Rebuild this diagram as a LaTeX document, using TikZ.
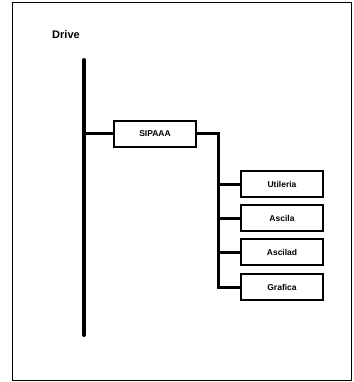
\documentclass[tikz,border=0pt]{standalone}
\usepackage{fontspec}
\setmainfont{Liberation Sans}
\begin{document}
\begin{tikzpicture}[x=1pt,y=-1pt,
        box/.style = {draw, line width=1.1pt, minimum width=82pt, minimum height=26pt, inner sep=0pt, font=\bfseries\fontsize{8.5}{10}\selectfont},
        bar/.style = {line width=3pt}
    ]
            \useasboundingbox (0,0) rectangle (353,382);
            \draw[line width=1pt] (12,380) -- (12,3) -- (351,3) -- (351,380) -- cycle;
            \node[font=\bfseries\fontsize{11}{13}\selectfont] (drive) at (66,35) {Drive};
            \coordinate (top) at (84,60);
            \coordinate (bottom) at (84,335);
            \draw[line width=4pt, line cap=round] (top) -- (bottom);
            \node[box] (sipaaa) at (155,134) {SIPAAA};
            \node[box] (util) at (282,184) {Utileria};
            \node[box] (ascila) at (282,218) {Ascila};
            \node[box] (ascilad) at (282,252) {Ascilad};
            \node[box] (grafica) at (282,287) {Grafica};
            \coordinate (fork) at (218,134);
            \draw[bar] (top |- sipaaa.west) -- (sipaaa.west);
            \draw[bar] (sipaaa.east) -- (fork) |- (grafica.west);
            \draw[bar] (fork |- util.west) -- (util.west);
            \draw[bar] (fork |- ascila.west) -- (ascila.west);
            \draw[bar] (fork |- ascilad.west) -- (ascilad.west);
        \end{tikzpicture}
\end{document}
